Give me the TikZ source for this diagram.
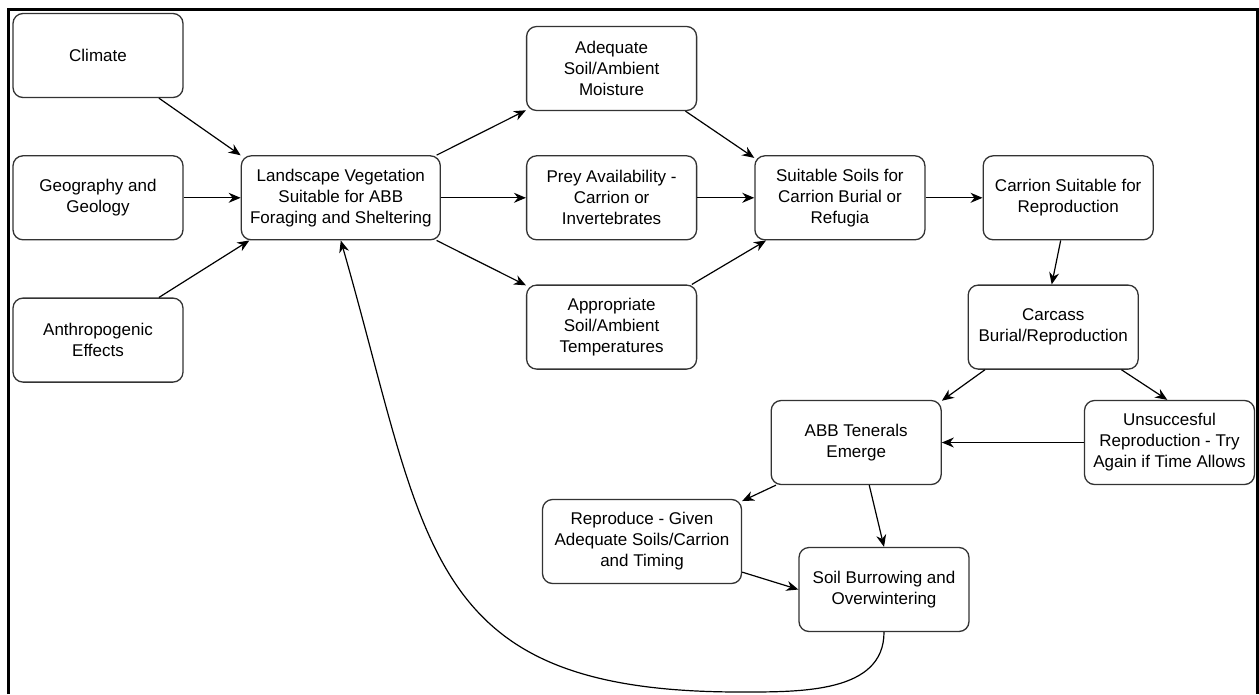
\documentclass[tikz,border=0pt]{standalone}
\usepackage{fontspec}
\setmainfont{Liberation Sans}
\usetikzlibrary{positioning,arrows.meta}

\begin{document}
\begin{tikzpicture}[
  x=1pt, y=-1pt,
  node distance=57pt,
  box/.style={draw=black!80, line width=1.3pt, rounded corners=10pt, minimum width=170pt, minimum height=84pt, align=center, inner sep=2pt, font=\fontsize{17}{21}\selectfont},
  wide/.style={box, minimum width=199pt},
  arr/.style={-{Stealth[length=12pt,width=10pt]}, line width=1.2pt}
]
\useasboundingbox (0,0) rectangle (1259,694);
\draw[line width=3pt] (8,694) |- (1257,9) -- (1257,694);

\node[box] (climate) at (98,55.5) {Climate};
\node[box, below=of climate] (geo) {Geography and\\Geology};
\node[box, below=of geo] (anthro) {Anthropogenic\\Effects};
\node[wide, right=of geo] (landscape) {Landscape Vegetation\\Suitable for ABB\\Foraging and Sheltering};
\node[box, right=85pt of landscape] (prey) {Prey Availability -\\Carrion or\\Invertebrates};
\node[box, above=44pt of prey] (moisture) {Adequate\\Soil/Ambient\\Moisture};
\node[box, below=44pt of prey] (temps) {Appropriate\\Soil/Ambient\\Temperatures};
\node[box, right=of prey] (soils) {Suitable Soils for\\Carrion Burial or\\Refugia};
\node[box, right=of soils] (carrion) {Carrion Suitable for\\Reproduction};
\node[box, below=44pt of carrion, xshift=-15pt] (carcass) {Carcass\\Burial/Reproduction};
\node[box] (retry) at (1169.5,442.5) {Unsuccesful\\Reproduction - Try\\Again if Time Allows};
\node[box, left=142pt of retry] (tenerals) {ABB Tenerals\\Emerge};
\node[wide] (reproduce) at (642,541.5) {Reproduce - Given\\Adequate Soils/Carrion\\and Timing};
\node[box] (burrow) at (884,589.5) {Soil Burrowing and\\Overwintering};
\coordinate (loop) at (740,692);

\draw[arr] (climate.-35) -- (landscape.157);
\draw[arr] (geo) -- (landscape);
\draw[arr] (anthro.35) -- (landscape.-155);
\draw[arr] (landscape.24) -- (moisture.-154);
\draw[arr] (landscape) -- (prey);
\draw[arr] (landscape.-24) -- (temps.154);
\draw[arr] (moisture.-30) -- (soils.155);
\draw[arr] (prey) -- (soils);
\draw[arr] (temps.28) -- (soils.-150);
\draw[arr] (soils) -- (carrion);
\draw[arr] (carrion.-100) -- (carcass.92);
\draw[arr] (carcass.-148) -- (tenerals.26);
\draw[arr] (carcass.-32) -- (retry.93);
\draw[arr] (retry) -- (tenerals);
\draw[arr] (tenerals.-152) -- (reproduce.22);
\draw[arr] (tenerals.-73) -- (burrow.north);
\draw[arr] (reproduce.-17) -- (burrow.west);
\draw[arr] (burrow.south) to[out=-90,in=0] (loop) to[out=180,in=-74,looseness=1.35] (landscape.south);
\end{tikzpicture}
\end{document}
